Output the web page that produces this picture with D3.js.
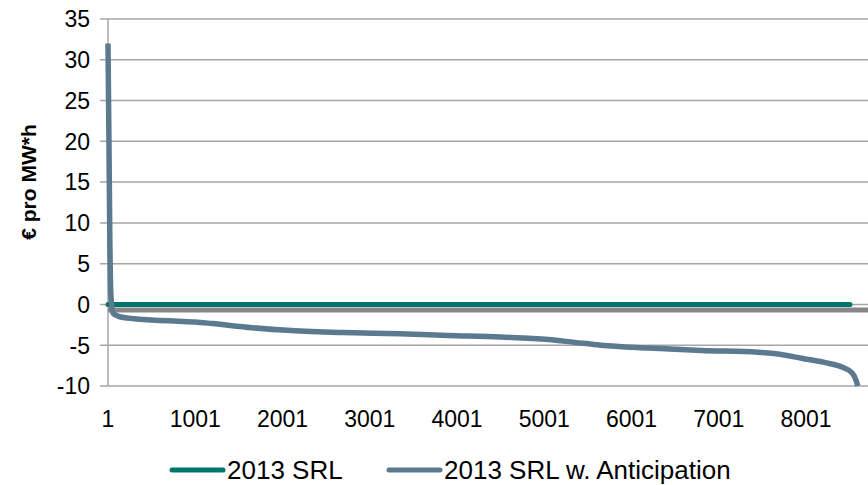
<!DOCTYPE html>
<html>
<head>
<meta charset="utf-8">
<script src="https://cdn.jsdelivr.net/npm/d3@7"></script>
<style>
  body { margin: 0; background: #fff; }
  svg { display: block; font-family: "Liberation Sans", Arial, sans-serif; }
</style>
</head>
<body>
<div id="chart"></div>
<script>
// Duration curve (hour index -> € pro MW*h)
const anticipationHours = [1, 12, 22, 35, 60, 120, 300, 500, 800, 1000, 1200, 1650, 2100, 2700, 3350, 3900, 4500, 5050, 5350, 5650, 6200, 6800, 7450, 7700, 7950, 8250, 8420, 8530, 8575, 8595];
const anticipationValues = [32, 20, 8, 1, -1.1, -1.45, -1.75, -1.9, -2.05, -2.15, -2.35, -2.85, -3.2, -3.45, -3.6, -3.8, -4.0, -4.3, -4.65, -5.0, -5.35, -5.65, -5.85, -6.1, -6.6, -7.2, -7.7, -8.4, -9.3, -10];
const srlHours = [1, 8505];
const srlValues = [0, 0];

const xTickLabels = [1, 1001, 2001, 3001, 4001, 5001, 6001, 7001, 8001];
const yTickLabels = [-10, -5, 0, 5, 10, 15, 20, 25, 30, 35];
const seriesNames = ['2013 SRL', '2013 SRL w. Anticipation'];
const seriesColors = ['#00766a', '#5b7a8f'];

const width = 868, height = 485;
const margin = { left: 108, top: 19, bottom: 386 };

const svg = d3.select('#chart').append('svg')
    .attr('width', width)
    .attr('height', height);

const x = d3.scaleLinear()
    .domain([1, 8001])
    .range([margin.left, 806]);
const y = d3.scaleLinear()
    .domain([-10, 35])
    .range([margin.bottom, margin.top]);

// Horizontal gridlines (with the little ticks left of the axis)
svg.append('g')
    .selectAll('line')
    .data(yTickLabels)
    .join('line')
    .attr('x1', margin.left - 8)
    .attr('x2', x(8760))
    .attr('y1', d => y(d))
    .attr('y2', d => y(d))
    .attr('stroke', '#a6a6a6')
    .attr('stroke-width', 1.5);

// Y axis line
svg.append('line')
    .attr('x1', margin.left).attr('x2', margin.left)
    .attr('y1', y(35)).attr('y2', y(-10))
    .attr('stroke', '#a6a6a6')
    .attr('stroke-width', 1.5);

// Y tick labels
svg.append('g')
    .selectAll('text')
    .data(yTickLabels)
    .join('text')
    .attr('x', 90)
    .attr('y', d => y(d))
    .attr('dy', '0.36em')
    .attr('text-anchor', 'end')
    .attr('font-size', 23)
    .attr('fill', '#000')
    .text(d => d);

// Y title
svg.append('text')
    .attr('transform', 'translate(36,182) rotate(-90)')
    .attr('text-anchor', 'middle')
    .attr('font-size', 21)
    .attr('font-weight', 'bold')
    .text('€ pro MW*h');

// X tick labels
svg.append('g')
    .selectAll('text')
    .data(xTickLabels)
    .join('text')
    .attr('x', d => x(d))
    .attr('y', 427)
    .attr('text-anchor', 'middle')
    .attr('font-size', 23)
    .text(d => d);

// Category axis crossing at zero (thick gray band under the green line)
svg.append('line')
    .attr('x1', margin.left).attr('x2', x(8760))
    .attr('y1', y(0) + 5.5).attr('y2', y(0) + 5.5)
    .attr('stroke', '#878787')
    .attr('stroke-width', 5);

const line = d3.line()
    .x(d => x(d[0]))
    .y(d => y(d[1]))
    .curve(d3.curveMonotoneX);

svg.append('path')
    .datum(d3.zip(srlHours, srlValues))
    .attr('d', line)
    .attr('fill', 'none')
    .attr('stroke', seriesColors[0])
    .attr('stroke-width', 5)
    .attr('stroke-linecap', 'round');

svg.append('path')
    .datum(d3.zip(anticipationHours, anticipationValues))
    .attr('d', line)
    .attr('fill', 'none')
    .attr('stroke', seriesColors[1])
    .attr('stroke-width', 5.5)
    .attr('stroke-linejoin', 'round');

// Legend
const legendX = [170, 387];
const legend = svg.append('g')
    .selectAll('g')
    .data(seriesNames)
    .join('g')
    .attr('transform', (d, i) => `translate(${legendX[i]},470)`);
legend.append('line')
    .attr('x1', 2).attr('x2', 53)
    .attr('stroke', (d, i) => seriesColors[i])
    .attr('stroke-width', 5)
    .attr('stroke-linecap', 'round');
legend.append('text')
    .attr('x', 57)
    .attr('dy', '0.36em')
    .attr('font-size', 26)
    .text(d => d);
</script>
</body>
</html>
